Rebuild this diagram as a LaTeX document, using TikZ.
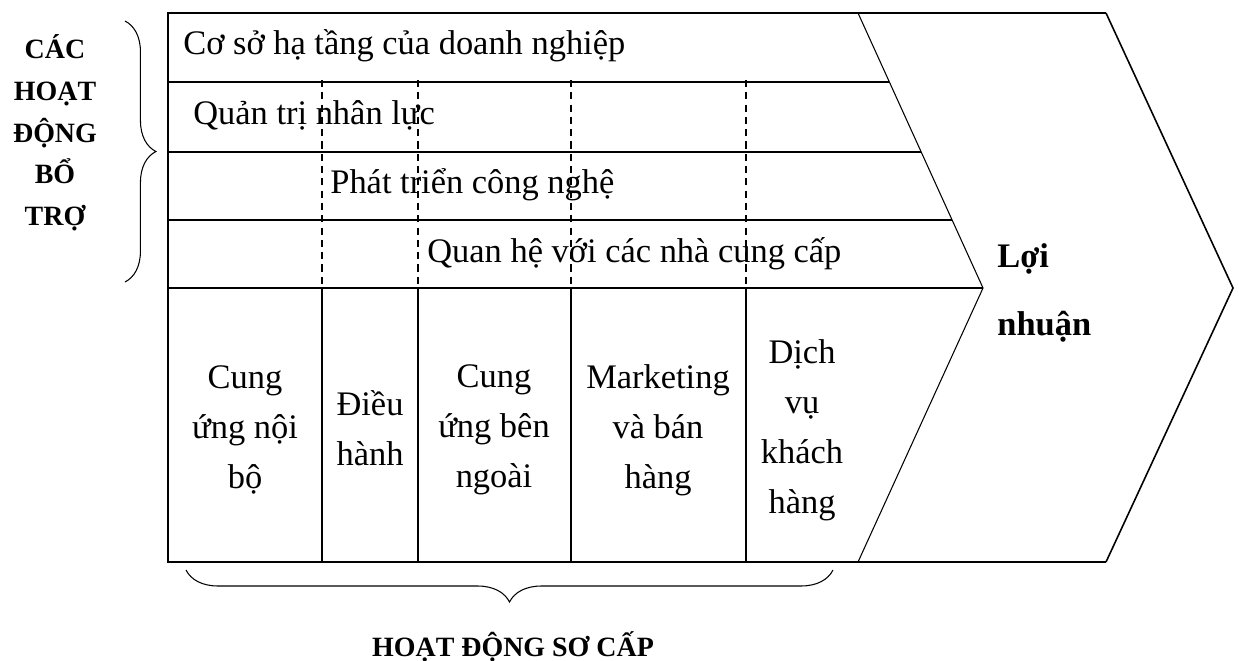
\documentclass[tikz,border=0pt]{standalone}
\usepackage{fontspec}
\setmainfont{Liberation Serif}
\usetikzlibrary{decorations.pathreplacing}

\tikzset{
  frame/.style={line width=0.9pt},
  slant/.style={line width=0.6pt},
  guide/.style={line width=0.8pt, dash pattern=on 4pt off 3pt},
  rowtext/.style={anchor=base west, inner sep=0pt, font=\fontsize{19.6}{24}\selectfont},
  cell/.style={align=center, inner sep=0pt, font=\fontsize{19.6}{28.45}\selectfont},
  side/.style={align=center, inner sep=0pt, font=\bfseries\fontsize{15.9}{23.76}\selectfont},
  bracket/.style={decorate, decoration={brace, amplitude=#1}, line width=0.6pt}
}

\begin{document}
\begin{tikzpicture}[x=0.02cm, y=-0.02cm]
\useasboundingbox (0,0) rectangle (1239,660);

% Outer arrow
\draw[frame] (1106,13) -- (168,13) -- (168,562) -- (1106,562);
\draw[slant] (858,13) -- (983,288) -- (858,562);
\draw[frame] (1106,13) -- (1233,288) -- (1106,562);

% Rows
\foreach \y/\xe in {82/889, 152/921, 220/952, 288/983}
  \draw[frame] (168,\y) -- (\xe,\y);

% Columns
\foreach \x in {322,418,571,746} {
  \draw[guide] (\x,80) -- (\x,288);
  \draw[frame] (\x,288) -- (\x,562);
}

% Support activities
\node[rowtext] (infra) at (183,54) {Cơ sở hạ tầng của doanh nghiệp};
\node[rowtext] (hrm) at (193,124) {Quản trị nhân lực};
\node[rowtext] (tech) at (330,193) {Phát triển công nghệ};
\node[rowtext] (procure) at (427,262) {Quan hệ với các nhà cung cấp};

% Primary activities
\node[cell] (inlog) at (245,430) {Cung\\ứng nội\\bộ};
\node[cell] (ops) at (370,428) {Điều\\hành};
\node[cell] (outlog) at (494,430) {Cung\\ứng bên\\ngoài};
\node[cell] (sales) at (658,430) {Marketing\\và bán\\hàng};
\node[cell] (service) at (802,430) {Dịch\\vụ\\khách\\hàng};

% Margin
\node[anchor=west, align=left, inner sep=0pt,
      font=\bfseries\fontsize{19.6}{38.7}\selectfont] (margin) at (997,293) {Lợi\\nhuận};

% Braces
\draw[bracket=17.6pt] (125,21) -- (125,282);
\node[side] (support) at (55,133) {CÁC\\HOẠT\\ĐỘNG\\BỔ\\TRỢ};
\draw[bracket=18.2pt] (833,570) -- (186,570);
\node[side, anchor=base] (primary) at (513,656) {HOẠT ĐỘNG SƠ CẤP};

\end{tikzpicture}
\end{document}
